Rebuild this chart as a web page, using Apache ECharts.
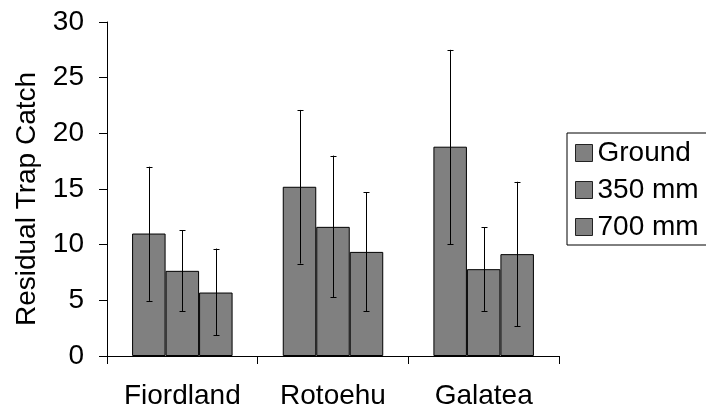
<!DOCTYPE html>
<html>
<head>
<meta charset="utf-8">
<script src="https://cdn.jsdelivr.net/npm/echarts@6/dist/echarts.min.js"></script>
<style>html,body{margin:0;padding:0;background:#fff}#c{width:706px;height:410px}</style>
</head>
<body>
<div id="c"></div>
<script>
var categories = ['Fiordland', 'Rotoehu', 'Galatea'];
var seriesNames = ['Ground', '350 mm', '700 mm'];
var groundVals = [11.0, 15.2, 18.8];
var mm350Vals = [7.65, 11.6, 7.8];
var mm700Vals = [5.7, 9.35, 9.15];
var groundLow = [4.95, 8.3, 10.05];
var groundHigh = [17.0, 22.1, 27.5];
var mm350Low = [4.0, 5.3, 4.05];
var mm350High = [11.3, 18.0, 11.55];
var mm700Low = [1.85, 4.0, 2.65];
var mm700High = [9.65, 14.7, 15.65];
var yTicks = [0, 5, 10, 15, 20, 25, 30];

var FONT = 'Liberation Sans, Arial, sans-serif';
var vals = [groundVals, mm350Vals, mm700Vals];
var lows = [groundLow, mm350Low, mm700Low];
var highs = [groundHigh, mm350High, mm700High];
var GAP = 1/3;

var chart = echarts.init(document.getElementById('c'), null, {renderer: 'canvas'});
var series = [];
seriesNames.forEach(function (name, i) {
  series.push({
    name: name, type: 'bar', data: vals[i], barGap: '0%', barCategoryGap: '33.3%',
    itemStyle: {color: '#808080', borderColor: '#000', borderWidth: 1},
    emphasis: {disabled: true}, z: 2
  });
});
seriesNames.forEach(function (name, i) {
  var data = categories.map(function (c, k) { return [k, lows[i][k], highs[i][k]]; });
  series.push({
    type: 'custom', name: name + ' err', data: data, z: 5, silent: true,
    encode: {x: 0, y: [1, 2]},
    renderItem: function (params, api) {
      var k = api.value(0);
      var lo = api.coord([k, api.value(1)]);
      var hi = api.coord([k, api.value(2)]);
      var catW = api.size([1, 0])[0];
      var barW = catW * (1 - GAP) / 3;
      var x = Math.round(lo[0] + (i - 1) * barW) + 0.5;
      var cap = 3;
      var st = {stroke: '#000', lineWidth: 1};
      return {type: 'group', children: [
        {type: 'line', shape: {x1: x, y1: lo[1], x2: x, y2: hi[1]}, style: st},
        {type: 'line', shape: {x1: x - cap, y1: Math.round(hi[1]) + 0.5, x2: x + cap, y2: Math.round(hi[1]) + 0.5}, style: st},
        {type: 'line', shape: {x1: x - cap, y1: Math.round(lo[1]) + 0.5, x2: x + cap, y2: Math.round(lo[1]) + 0.5}, style: st}
      ]};
    }
  });
});

chart.setOption({
  backgroundColor: '#fff',
  animation: false,
  textStyle: {fontFamily: FONT},
  grid: {left: 107, right: 147, top: 22, bottom: 53, containLabel: false},
  legend: {
    data: seriesNames, orient: 'vertical', left: 567, top: 133,
    padding: [5, 8, 3, 8], itemGap: 7, itemWidth: 17, itemHeight: 17, itemTextGap: 7,
    backgroundColor: '#fff', borderColor: '#000', borderWidth: 1,
    icon: 'rect',
    itemStyle: {color: '#808080', borderColor: '#222', borderWidth: 1},
    textStyle: {fontSize: 28, color: '#000', fontFamily: FONT, lineHeight: 30},
    selectedMode: false
  },
  xAxis: {
    type: 'category', data: categories, boundaryGap: true,
    axisLine: {lineStyle: {color: '#000', width: 1}},
    axisTick: {show: true, length: 8, alignWithLabel: false, interval: 0, lineStyle: {color: '#000'}},
    axisLabel: {fontSize: 28, color: '#000', margin: 26, interval: 0, fontFamily: FONT},
    splitLine: {show: false}
  },
  yAxis: {
    type: 'value', min: yTicks[0], max: yTicks[yTicks.length - 1], interval: yTicks[1] - yTicks[0],
    axisLine: {show: true, lineStyle: {color: '#000', width: 1}},
    axisTick: {show: true, length: 8, lineStyle: {color: '#000'}},
    axisLabel: {fontSize: 28, color: '#000', margin: 23, fontFamily: FONT},
    splitLine: {show: false}
  },
  graphic: [{
    type: 'text', x: 27, y: 199, rotation: Math.PI / 2,
    style: {text: 'Residual Trap Catch', fontSize: 28, fontFamily: FONT, fill: '#000', align: 'center', verticalAlign: 'middle'}
  }],
  series: series
});
</script>
</body>
</html>
